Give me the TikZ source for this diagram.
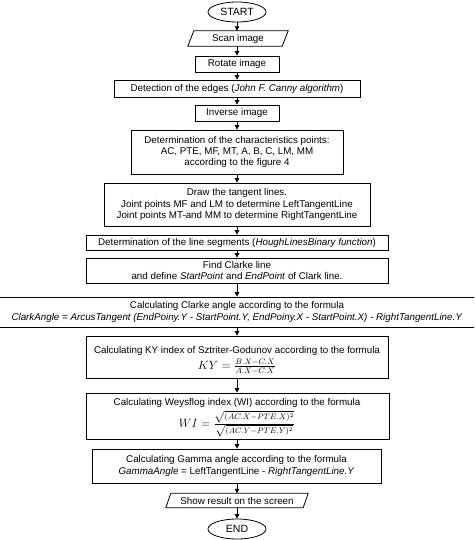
\documentclass[tikz,border=0pt]{standalone}
\usepackage{fontspec}
\setmainfont{Liberation Sans}
\usetikzlibrary{shapes.geometric,arrows.meta}
\begin{document}
\begin{tikzpicture}[x=1pt,y=-1pt,
 lw/.style={line width=0.8pt},
 box/.style={draw, lw, inner sep=0pt, align=center, font=\fontsize{9.8}{11.3}\selectfont},
 txt/.style={inner sep=0pt, align=center, font=\fontsize{9.8}{11.3}\selectfont},
 frm/.style={inner sep=0pt, font=\fontsize{11.5}{13}\selectfont},
 term/.style={ellipse, draw, lw, inner sep=0pt, minimum width=58pt, minimum height=20pt, font=\fontsize{10.5}{12}\selectfont},
 para/.style={inner sep=0pt, align=center, font=\fontsize{9.8}{11.3}\selectfont},
 arr/.style={-{Triangle[width=4.5pt,length=4.5pt]}, lw}]
\useasboundingbox (0,0) rectangle (474,540);
\clip (0,0) rectangle (474,540);
\node[term] (start) at (237,12) {START};
\node[para, minimum width=100pt, minimum height=15pt] (scan) at (238,38.5) {Scan image};
\draw[lw] ([xshift=6pt]scan.north west) -- (scan.north east) -- ([xshift=-6pt]scan.south east) -- (scan.south west) -- cycle;
\node[box, minimum width=84pt, minimum height=16pt] (rot) at (237,64) {Rotate image};
\node[box, minimum width=246pt, minimum height=17pt] (det) at (237,88.5) {Detection of the edges (\textit{John F. Canny algorithm})};
\node[box, minimum width=84pt, minimum height=16pt] (inv) at (237,113) {Inverse image};
\node[box, minimum width=212pt, minimum height=44pt] (cp) at (237,152) {Determination of the characteristics points:\\AC, PTE, MF, MT, A, B, C, LM, MM\\according to the figure 4};
\node[box, minimum width=266pt, minimum height=43pt] (tan) at (237,204.5) {Draw the tangent lines.\\Joint points MF and LM to determine LeftTangentLine\\Joint points MT-and MM to determine RightTangentLine};
\node[box, minimum width=302pt, minimum height=15pt] (seg) at (237,242.5) {Determination of the line segments (\textit{HoughLinesBinary function})};
\node[box, minimum width=302pt, minimum height=25pt] (clk) at (237,270.5) {Find Clarke line\\and define \textit{StartPoint} and \textit{EndPoint} of Clark line.};
\node[box, minimum width=500pt, minimum height=30pt] (ang) at (237,312) {Calculating Clarke angle according to the formula\\\textit{ClarkAngle = ArcusTangent (EndPoiny.Y - StartPoint.Y, EndPoiny.X - StartPoint.X) - RightTangentLine.Y}};
\node[box, minimum width=302pt, minimum height=42pt] (ky) at (237,357) {};
\node[txt] (kyt) at (237,351) {Calculating KY index of Sztriter-Godunov according to the formula};
\node[frm] (kyf) at (237,367) {$KY = \frac{B.X-C.X}{A.X-C.X}$};
\node[box, minimum width=303pt, minimum height=46pt] (wi) at (237.5,416) {};
\node[txt] (wit) at (237,403) {Calculating Weysflog index (WI) according to the formula};
\node[frm] (wif) at (237,424) {$WI = \frac{\sqrt{(AC.X-PTE.X)^2}}{\sqrt{(AC.Y-PTE.Y)^2}}$};
\node[box, minimum width=289pt, minimum height=34pt] (gam) at (236.5,466) {Calculating Gamma angle according to the formula\\\textit{GammaAngle} = LeftTangentLine - \textit{RightTangentLine.Y}};
\node[para, minimum width=142pt, minimum height=14pt] (show) at (237,500.5) {Show result on the screen};
\draw[lw] ([xshift=5pt]show.north west) -- (show.north east) -- ([xshift=-5pt]show.south east) -- (show.south west) -- cycle;
\node[term] (end) at (237,529) {END};
\draw[arr] (start.south) -- (start.south |- scan.north);
\draw[arr] (start.south |- scan.south) -- (start.south |- rot.north);
\draw[arr] (rot.south) -- (rot.south |- det.north);
\draw[arr] (det.south) -- (det.south |- inv.north);
\draw[arr] (inv.south) -- (inv.south |- cp.north);
\draw[arr] (cp.south) -- (cp.south |- tan.north);
\draw[arr] (tan.south) -- (tan.south |- seg.north);
\draw[arr] (seg.south) -- (seg.south |- clk.north);
\draw[arr] (clk.south) -- (clk.south |- ang.north);
\draw[arr] (ang.south) -- (ang.south |- ky.north);
\draw[arr] (ky.south) -- (ky.south |- wi.north);
\draw[arr] (ky.south |- wi.south) -- (ky.south |- gam.north);
\draw[arr] (ky.south |- gam.south) -- (ky.south |- show.north);
\draw[arr] (ky.south |- show.south) -- (end.north);
\end{tikzpicture}
\end{document}
